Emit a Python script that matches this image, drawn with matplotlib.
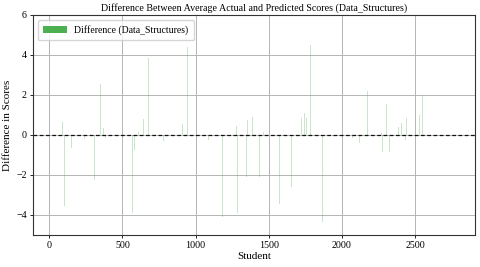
import matplotlib
matplotlib.use("Agg")
import matplotlib.pyplot as plt

plt.rcParams['font.family'] = ['Liberation Serif', 'DejaVu Serif']

# Student ids and the average (actual - predicted) difference
students = [68, 91, 105, 148, 152, 198, 210, 232, 240, 273, 284, 300, 309, 350, 360, 366, 372, 385, 430, 491,
            569, 583, 610, 628, 644, 678, 696, 708, 758, 765, 780, 900, 912, 944, 1024, 1090, 1106,
            1183, 1276, 1280, 1285, 1343, 1349, 1355, 1390, 1418, 1436, 1465, 1475, 1555, 1572, 1632, 1657,
            1725, 1743, 1754, 1758, 1786, 1816, 1866, 1965, 1986, 2070, 2118, 2175, 2259, 2268, 2275, 2293,
            2300, 2305, 2323, 2375, 2387, 2407, 2423, 2430, 2432, 2440, 2528, 2551, 2600, 2771]
diffs = [-1.2, 0.67, -3.53, 0.4, -0.67, 0.13, 0.1, -0.3, -0.2, 0.25, -3.5, 0.15, -2.25, 2.55, -0.87, 0.63, 0.33, -0.13, -0.13, 0.37,
         -3.9, -0.75, 0.17, -1.25, 0.78, 3.83, 1.0, 0.42, -0.8, 0.4, -0.3, -0.13, 0.53, 4.38, -2.0, -0.25, 0.67,
         -4.08, -3.67, 0.47, -3.92, 0.58, -2.08, 0.75, 0.92, 0.42, -2.12, 0.13, 0.1, -0.13, -3.47, -0.25, -2.58,
         0.87, 1.08, 1.63, 0.87, 4.5, -0.13, -4.37, 0.25, 0.33, -0.13, -0.38, 2.2, -0.92, 0.1, -0.87, -0.6,
         -0.58, 1.53, -0.83, 0.25, 0.42, 0.58, 0.92, 1.63, -0.25, 0.83, 1.0, 2.0, 0.05, -0.55]
subject = "Data_Structures"

fig = plt.figure(figsize=(4.8, 2.67), dpi=100)
ax = fig.add_axes([0.069, 0.12, 0.921, 0.824])

ax.bar(students, diffs, width=4, color='#4caf50', alpha=0.3, label=f"Difference ({subject})")
ax.axhline(0, color='#111111', linestyle=(0, (3, 2)), linewidth=0.9)

ax.set_xlim(-110, 2910)
ax.set_ylim(-5, 6)
ax.set_title(f"Difference Between Average Actual and Predicted Scores ({subject})", fontsize=7.2, pad=3)
ax.set_xlabel("Student", fontsize=8, labelpad=1)
ax.set_ylabel("Difference in Scores", fontsize=8, labelpad=3)
ax.tick_params(labelsize=7.2, length=2.5, width=0.6, pad=2)
ax.grid(True, color='#b5b5b5', linewidth=0.7)
ax.set_axisbelow(True)
for s in ax.spines.values():
    s.set_linewidth(0.8)
    s.set_color('#333333')

leg = ax.legend(loc='upper left', fontsize=7.0, handlelength=2.4, handleheight=0.6, borderpad=0.55)
for h in leg.legend_handles:
    h.set_alpha(1.0)

fig.savefig("out.png", dpi=100)
